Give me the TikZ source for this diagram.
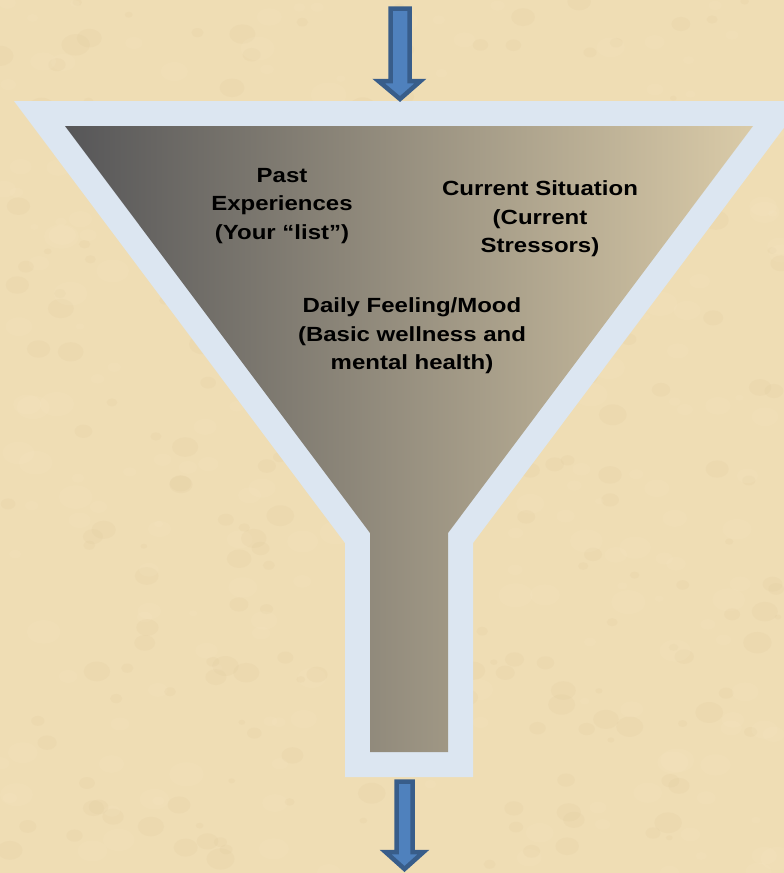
\documentclass[tikz,border=0pt]{standalone}
\usepackage{fontspec}
\setmainfont{Liberation Sans}
\begin{document}
\begin{tikzpicture}[x=1pt,y=-1pt,
  bgcol/.style={fill={rgb,255:red,239;green,221;blue,180}},
  rim/.style={fill={rgb,255:red,220;green,230;blue,241}},
  blotch/.style={opacity=0.10},
  bluearrow/.style={fill={rgb,255:red,79;green,129;blue,189},draw={rgb,255:red,56;green,93;blue,138},line width=4.5pt,line join=miter},
  label/.style={font=\fontsize{20.5}{28.5}\selectfont\bfseries,align=center,text=black,inner sep=0pt,xscale=1.17,transform shape}]
\useasboundingbox (0,0) rectangle (784,873);
\clip (0,0) rectangle (784,873);
% background
\fill[bgcol] (0,0) rectangle (784,873);
\pgfmathsetseed{11}
\foreach \i in {1,...,500}{
  \pgfmathsetmacro{\px}{rnd*784}
  \pgfmathsetmacro{\py}{rnd*873}
  \pgfmathsetmacro{\pr}{4+rnd*14}
  \pgfmathsetmacro{\pc}{rnd}
  \ifdim\pc pt<0.5pt
    \fill[blotch,color={rgb,255:red,250;green,238;blue,208}] (\px,\py) ellipse ({\pr} and {\pr*0.7});
  \else
    \fill[blotch,color={rgb,255:red,212;green,188;blue,140}] (\px,\py) ellipse ({\pr*0.8} and {\pr*0.6});
  \fi
}
% funnel rim
\fill[rim] (14,101) -- (804,101) -- (473,543) -- (473,777) -- (345,777) -- (345,543) -- cycle;
% funnel interior
\shade[left color={rgb,255:red,86;green,86;blue,88},
       middle color={rgb,255:red,146;green,139;blue,120},
       right color={rgb,255:red,218;green,203;blue,168}]
  (65,126) -- (753,126) -- (448,533) -- (448,752) -- (370,752) -- (370,533) -- cycle;
% arrows
\filldraw[bluearrow] (390.5,8.5) -- (409.5,8.5) -- (409.5,81) -- (420.5,81) -- (400,99) -- (378.5,81) -- (390.5,81) -- cycle;
\filldraw[bluearrow] (396.5,781.5) -- (412.5,781.5) -- (412.5,852) -- (423.5,852) -- (404.5,869) -- (385.5,852) -- (396.5,852) -- cycle;
% texts
\node[label] (past) at (282,206) {Past\\Experiences\\(Your “list”)};
\node[label] (current) at (540,219) {Current Situation\\(Current\\Stressors)};
\node[label] (daily) at (412,336) {Daily Feeling/Mood\\(Basic wellness and\\mental health)};
\end{tikzpicture}
\end{document}
